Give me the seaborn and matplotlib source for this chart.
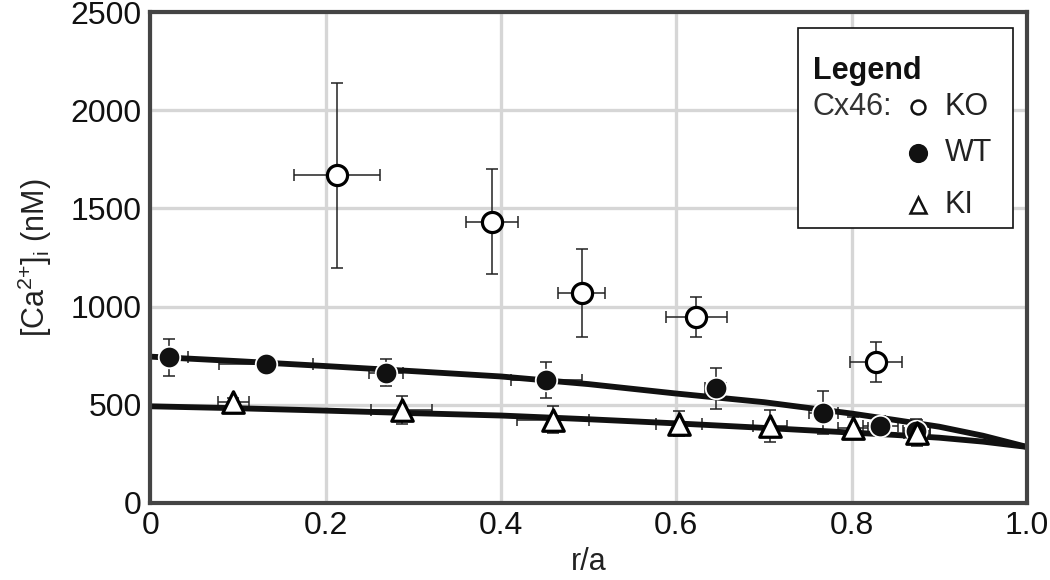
import numpy as np
import pandas as pd
import seaborn as sns
from matplotlib import pyplot as plt
from matplotlib.patches import Rectangle

# KO (open circles)
ko_r = [0.213, 0.390, 0.492, 0.623, 0.828]
ko_ca = [1669, 1433, 1067, 948, 718]
ko_yerr = [470, 268, 224, 103, 100]
ko_xerr = [0.049, 0.030, 0.027, 0.035, 0.030]

# WT (filled circles)
wt_r = [0.021, 0.132, 0.269, 0.452, 0.645, 0.768, 0.833, 0.874]
wt_ca = [741, 705, 664, 625, 583, 460, 392, 365]
wt_yerr = [93, 25, 68, 93, 103, 108, 50, 60]
wt_xerr = [0.022, 0.054, 0.019, 0.040, 0.012, 0.017, 0.020, 0.015]

# KI (open triangles)
ki_r = [0.095, 0.287, 0.459, 0.603, 0.707, 0.802, 0.875]
ki_ca = [514, 472, 424, 404, 390, 382, 356]
ki_yerr = [20, 72, 67, 65, 82, 58, 68]
ki_xerr = [0.018, 0.035, 0.041, 0.026, 0.019, 0.017, 0.015]

# model curves
curve_r = [0.0, 0.1, 0.2, 0.3, 0.4, 0.5, 0.6, 0.7, 0.8, 0.85, 0.9, 0.95, 1.0]
wt_curve = [745, 722, 697, 671, 644, 605, 557, 513, 455, 422, 388, 342, 285]
ki_curve = [492, 482, 470, 457, 445, 426, 405, 382, 358, 346, 332, 312, 285]

x_ticks = [0, 0.2, 0.4, 0.6, 0.8, 1.0]
x_ticklabels = ["0", "0.2", "0.4", "0.6", "0.8", "1.0"]
y_ticks = [0, 500, 1000, 1500, 2000, 2500]

sns.set_theme(style="whitegrid")
plt.rcParams["font.family"] = ["Liberation Sans", "DejaVu Sans"]
plt.rcParams["mathtext.default"] = "regular"

fig, ax = plt.subplots(figsize=(10.5, 5.8), dpi=100)
fig.subplots_adjust(left=0.143, right=0.978, top=0.979, bottom=0.133)

ebar_kw = dict(fmt="none", ecolor="#222222", elinewidth=1.1, capsize=4, capthick=1.1, zorder=2)
ax.errorbar(ko_r, ko_ca, yerr=ko_yerr, xerr=ko_xerr, **ebar_kw)
ax.errorbar(wt_r, wt_ca, yerr=wt_yerr, xerr=wt_xerr, **ebar_kw)
ax.errorbar(ki_r, ki_ca, yerr=ki_yerr, xerr=ki_xerr, **ebar_kw)

curves = pd.DataFrame({"r": curve_r * 2, "ca": wt_curve + ki_curve,
                       "group": ["WT"] * len(curve_r) + ["KI"] * len(curve_r)})
sns.lineplot(data=curves, x="r", y="ca", units="group", estimator=None,
             color="#111111", linewidth=4.2, ax=ax, zorder=3)

sns.scatterplot(x=ko_r, y=ko_ca, marker="o", s=210, color="white",
                edgecolor="black", linewidth=2.3, ax=ax, zorder=4)
sns.scatterplot(x=wt_r, y=wt_ca, marker="o", s=240, color="#111111",
                edgecolor="white", linewidth=1.3, ax=ax, zorder=4)
sns.scatterplot(x=ki_r, y=ki_ca, marker="^", s=240, color="white",
                edgecolor="black", linewidth=2.3, ax=ax, zorder=4)

ax.set_xlim(0, 1.0)
ax.set_ylim(0, 2500)
ax.set_xticks(x_ticks)
ax.set_xticklabels(x_ticklabels)
ax.set_yticks(y_ticks)
ax.tick_params(length=0, labelsize=23, pad=6, colors="#111111")
ax.grid(True, color="#d6d6d6", linewidth=2.4)
ax.set_axisbelow(True)
for sp in ax.spines.values():
    sp.set_color("#444444")
    sp.set_linewidth(3)
    sp.set_zorder(6)

ax.set_xlabel("r/a", fontsize=22, color="#222222", labelpad=4)
ax.set_ylabel("[Ca$^{2{+}}$]$_i$ (nM)", fontsize=22, color="#222222", labelpad=12)

# legend box drawn by hand
ax.add_patch(Rectangle((0.739, 0.560), 0.245, 0.407, transform=ax.transAxes,
                       facecolor="white", edgecolor="#111111", linewidth=1.2, zorder=7))
ax.text(0.756, 0.88, "Legend", transform=ax.transAxes, fontsize=22, fontweight="bold",
        va="center", ha="left", color="#111111", zorder=8)
ax.text(0.756, 0.807, "Cx46:", transform=ax.transAxes, fontsize=22,
        va="center", ha="left", color="#333333", zorder=8)
leg_rows = [("KO", 0.807, "o", "white", 10), ("WT", 0.713, "o", "#111111", 12),
            ("KI", 0.607, "^", "white", 11)]
for lab, yy, mk, fc, ms in leg_rows:
    ax.plot([0.876], [yy], transform=ax.transAxes, marker=mk, markersize=ms,
            markerfacecolor=fc, markeredgecolor="#111111", markeredgewidth=1.8,
            linestyle="none", zorder=8, clip_on=False)
    ax.text(0.906, yy, lab, transform=ax.transAxes, fontsize=22,
            va="center", ha="left", color="#222222", zorder=8)

fig.savefig("out.png", dpi=100)
